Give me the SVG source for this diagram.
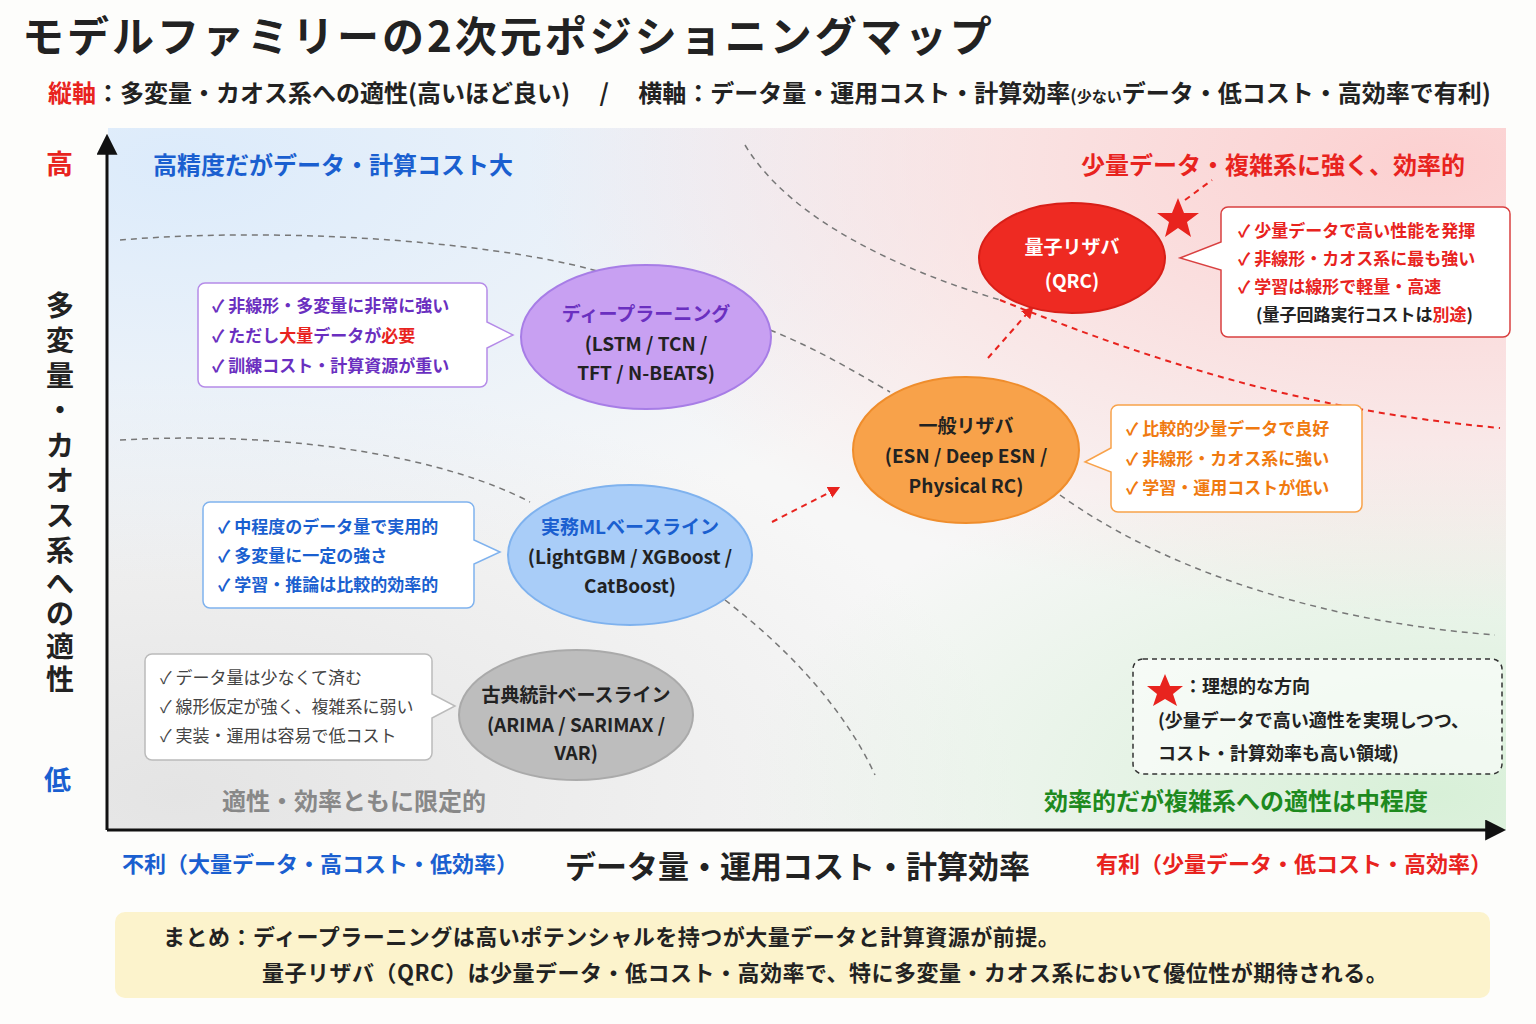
<svg xmlns="http://www.w3.org/2000/svg" width="1536" height="1024" viewBox="0 0 1536 1024">
<defs>
<radialGradient id="gB" cx="0.05" cy="0.05" r="0.6"><stop offset="0" stop-color="#dcebfb"/><stop offset="1" stop-color="#dcebfb" stop-opacity="0"/></radialGradient>
<radialGradient id="gR" cx="0.95" cy="0.05" r="0.65"><stop offset="0" stop-color="#fcd0d0"/><stop offset="1" stop-color="#fcd0d0" stop-opacity="0"/></radialGradient>
<radialGradient id="gG" cx="0.95" cy="0.95" r="0.5"><stop offset="0" stop-color="#d8f0d8"/><stop offset="1" stop-color="#d8f0d8" stop-opacity="0"/></radialGradient>
<radialGradient id="gK" cx="0.05" cy="0.95" r="0.6"><stop offset="0" stop-color="#e4e4e4"/><stop offset="1" stop-color="#e4e4e4" stop-opacity="0"/></radialGradient>
<marker id="ar" viewBox="0 0 10 10" refX="8" refY="5" markerWidth="6" markerHeight="6" orient="auto"><path d="M0,0L10,5L0,10z" fill="#e8231e"/></marker>
<marker id="ax" viewBox="0 0 10 10" refX="8" refY="5" markerWidth="7" markerHeight="7" orient="auto"><path d="M0,0L10,5L0,10z" fill="#111"/></marker>
</defs>
<style>
text{font-family:"Noto Sans CJK JP","Noto Sans",sans-serif;}
.b{font-weight:700}
.gd{fill:none;stroke:#777;stroke-width:1.5;stroke-dasharray:6 5}
.rd{fill:none;stroke:#e8231e;stroke-width:2;stroke-dasharray:6 5}
.t{font-size:17px}
.e{font-size:19px;font-weight:700;text-anchor:middle}
.v{font-size:28px;font-weight:700;fill:#222;text-anchor:middle}
</style>
<rect width="1536" height="1024" fill="#fdfdfb"/>
<rect x="108" y="128" width="1398" height="702" fill="#f7f7f7"/>
<rect x="108" y="128" width="1398" height="702" fill="url(#gK)"/>
<rect x="108" y="128" width="1398" height="702" fill="url(#gB)"/>
<rect x="108" y="128" width="1398" height="702" fill="url(#gG)"/>
<rect x="108" y="128" width="1398" height="702" fill="url(#gR)"/>

<text x="22" y="52" font-size="42" class="b" fill="#222" letter-spacing="3">モデルファミリーの2次元ポジショニングマップ</text>
<text x="48" y="102" font-size="24" class="b" fill="#222"><tspan fill="#e8231e">縦軸</tspan>：多変量・カオス系への適性(高いほど良い)　 /　 横軸：データ量・運用コスト・計算効率<tspan font-size="17">(</tspan><tspan font-size="15">少ない</tspan>データ・低コスト・高効率で有利)</text>

<g id="connectors">
<path class="gd" d="M120,240 C300,225 520,245 610,275"/>
<path class="gd" d="M770,330 C820,350 860,375 890,392"/>
<path class="gd" d="M120,440 C300,430 450,460 530,502"/>
<path class="gd" d="M725,600 C790,650 845,710 875,775"/>
<path class="gd" d="M745,145 C790,220 900,270 1000,300"/>
<path class="rd" d="M1000,300 C1150,360 1300,410 1500,428" stroke-width="1.5"/>
<path class="gd" d="M1060,495 C1150,560 1300,620 1495,635"/>
<path class="rd" d="M772,522 L838,488" marker-end="url(#ar)"/>
<path class="rd" d="M988,358 L1032,308" marker-end="url(#ar)"/>
<path class="rd" d="M1185,200 L1212,180"/>
<line x1="107" y1="830" x2="107" y2="138" stroke="#111" stroke-width="3" marker-end="url(#ax)"/>
<line x1="107" y1="830" x2="1502" y2="830" stroke="#111" stroke-width="3" marker-end="url(#ax)"/>
</g>

<g id="labels">
<text x="46" y="174" font-size="27" class="b" fill="#e8231e">高</text>
<text x="44" y="790" font-size="27" class="b" fill="#1a5fd0">低</text>
<text class="v" x="60" y="316">多</text>
<text class="v" x="60" y="351">変</text>
<text class="v" x="60" y="386">量</text>
<text class="v" x="60" y="421">・</text>
<text class="v" x="60" y="456">カ</text>
<text class="v" x="60" y="491">オ</text>
<text class="v" x="60" y="526">ス</text>
<text class="v" x="60" y="561">系</text>
<text class="v" x="60" y="594">へ</text>
<text class="v" x="60" y="624">の</text>
<text class="v" x="60" y="657">適</text>
<text class="v" x="60" y="690">性</text>
<text x="153" y="174" font-size="24" class="b" fill="#1a5fd0">高精度だがデータ・計算コスト大</text>
<text x="1465" y="174" font-size="24" class="b" fill="#e8231e" text-anchor="end">少量データ・複雑系に強く、効率的</text>
<text x="222" y="810" font-size="24" class="b" fill="#888">適性・効率ともに限定的</text>
<text x="1428" y="810" font-size="24" class="b" fill="#1e8a1e" text-anchor="end">効率的だが複雑系への適性は中程度</text>
<text x="122" y="872" font-size="22" class="b" fill="#1a5fd0">不利（大量データ・高コスト・低効率）</text>
<text x="565" y="878" font-size="31" class="b" fill="#222">データ量・運用コスト・計算効率</text>
<text x="1492" y="872" font-size="22" class="b" fill="#e8231e" text-anchor="end">有利（少量データ・低コスト・高効率）</text>
</g>

<g id="dl">
<path d="M205,283 H480 a7,7 0 0 1 7,7 V322 L513,335 L487,348 V380 a7,7 0 0 1 -7,7 H205 a7,7 0 0 1 -7,-7 V290 a7,7 0 0 1 7,-7z" fill="#fff" stroke="#b58be8" stroke-width="1.5"/>
<text class="t b" fill="#6a2fc0"><tspan x="212" y="312">✓ 非線形・多変量に非常に強い</tspan><tspan x="212" y="342">✓ ただし<tspan fill="#e8231e">大量</tspan>データが<tspan fill="#e8231e">必要</tspan></tspan><tspan x="212" y="372">✓ 訓練コスト・計算資源が重い</tspan></text>
<ellipse cx="646" cy="337" rx="125" ry="72" fill="#c8a0f2" stroke="#a77de6" stroke-width="2"/>
<text class="e" font-size="25" fill="#6a2fc0" x="646" y="321">ディープラーニング</text>
<text class="e" fill="#222" font-size="18" x="646" y="351">(LSTM / TCN /</text>
<text class="e" fill="#222" font-size="18" x="646" y="380">TFT / N-BEATS)</text>
</g>

<g id="ml">
<path d="M210,502 H467 a7,7 0 0 1 7,7 V540 L500,552 L474,564 V601 a7,7 0 0 1 -7,7 H210 a7,7 0 0 1 -7,-7 V509 a7,7 0 0 1 7,-7z" fill="#fff" stroke="#7fb2ee" stroke-width="1.5"/>
<text class="t b" fill="#1a5fd0"><tspan x="218" y="533">✓ 中程度のデータ量で実用的</tspan><tspan x="218" y="562">✓ 多変量に一定の強さ</tspan><tspan x="218" y="591">✓ 学習・推論は比較的効率的</tspan></text>
<ellipse cx="630" cy="555" rx="122" ry="70" fill="#a9cdf8" stroke="#7fb2ee" stroke-width="2"/>
<text class="e" font-size="23" fill="#1a5fd0" x="630" y="534">実務MLベースライン</text>
<text class="e" fill="#222" font-size="18" x="630" y="564">(LightGBM / XGBoost /</text>
<text class="e" fill="#222" font-size="18" x="630" y="593">CatBoost)</text>
</g>

<g id="classic">
<path d="M152,654 H425 a7,7 0 0 1 7,7 V694 L455,706 L432,718 V753 a7,7 0 0 1 -7,7 H152 a7,7 0 0 1 -7,-7 V661 a7,7 0 0 1 7,-7z" fill="#fff" stroke="#bbb" stroke-width="1.5"/>
<text class="t" fill="#444"><tspan x="160" y="684">✓ データ量は少なくて済む</tspan><tspan x="160" y="713">✓ 線形仮定が強く、複雑系に弱い</tspan><tspan x="160" y="742">✓ 実装・運用は容易で低コスト</tspan></text>
<ellipse cx="576" cy="715" rx="117" ry="65" fill="#bdbdbd" stroke="#aaa" stroke-width="2"/>
<text class="e" font-size="21" fill="#222" x="576" y="702">古典統計ベースライン</text>
<text class="e" fill="#222" font-size="18" x="576" y="732">(ARIMA / SARIMAX /</text>
<text class="e" fill="#222" font-size="18" x="576" y="760">VAR)</text>
</g>

<g id="rc">
<path d="M1118,405 H1355 a7,7 0 0 1 7,7 V505 a7,7 0 0 1 -7,7 H1118 a7,7 0 0 1 -7,-7 V472 L1085,462 L1111,448 V412 a7,7 0 0 1 7,-7z" fill="#fff" stroke="#f8a24a" stroke-width="1.5"/>
<text class="t b" fill="#f07a10"><tspan x="1126" y="435">✓ 比較的少量データで良好</tspan><tspan x="1126" y="465">✓ 非線形・カオス系に強い</tspan><tspan x="1126" y="494">✓ 学習・運用コストが低い</tspan></text>
<ellipse cx="966" cy="450" rx="113" ry="73" fill="#f8a24a" stroke="#ef8d2c" stroke-width="2"/>
<text class="e" font-size="25" fill="#222" x="966" y="433">一般リザバ</text>
<text class="e" fill="#222" font-size="18" x="966" y="463">(ESN / Deep ESN /</text>
<text class="e" fill="#222" font-size="18" x="966" y="493">Physical RC)</text>
</g>

<g id="qrc">
<path d="M1228,207 H1503 a7,7 0 0 1 7,7 V330 a7,7 0 0 1 -7,7 H1228 a7,7 0 0 1 -7,-7 V270 L1180,258 L1221,242 V214 a7,7 0 0 1 7,-7z" fill="#fff" stroke="#d94040" stroke-width="1.5"/>
<text class="t b" fill="#e8231e"><tspan x="1238" y="237">✓ 少量データで高い性能を発揮</tspan><tspan x="1238" y="265">✓ 非線形・カオス系に最も強い</tspan><tspan x="1238" y="293">✓ 学習は線形で軽量・高速</tspan><tspan x="1256" y="321" fill="#222">(量子回路実行コストは<tspan fill="#e8231e">別途</tspan>)</tspan></text>
<ellipse cx="1072" cy="258" rx="93" ry="55" fill="#ee2a22" stroke="#d81f18" stroke-width="2"/>
<text class="e" font-size="25" fill="#fff" x="1072" y="254">量子リザバ</text>
<text class="e" font-size="22" fill="#fff" x="1072" y="288">(QRC)</text>
<polygon points="1178,198 1184,213 1199,213 1187,222 1191,237 1178,228 1165,237 1169,222 1157,213 1172,213" fill="#e8231e"/>
</g>

<g id="legend">
<rect x="1133" y="659" width="369" height="115" rx="10" fill="#fff" fill-opacity="0.6" stroke="#333" stroke-width="1.5" stroke-dasharray="5 4"/>
<polygon points="1165,674 1170,686 1183,686 1173,694 1177,706 1165,699 1153,706 1157,694 1147,686 1160,686" fill="#e8231e"/>
<text font-size="18" class="b" fill="#222"><tspan x="1184" y="693">：理想的な方向</tspan><tspan x="1158" y="727">(少量データで高い適性を実現しつつ、</tspan><tspan x="1158" y="760">コスト・計算効率も高い領域)</tspan></text>
</g>

<g id="summary">
<rect x="115" y="912" width="1375" height="86" rx="10" fill="#fcf3cc"/>
<text font-size="22" class="b" fill="#222" letter-spacing="0.5"><tspan x="163" y="945">まとめ：ディープラーニングは高いポテンシャルを持つが大量データと計算資源が前提。</tspan><tspan x="262" y="981">量子リザバ（QRC）は少量データ・低コスト・高効率で、特に多変量・カオス系において優位性が期待される。</tspan></text>
</g>
</svg>
